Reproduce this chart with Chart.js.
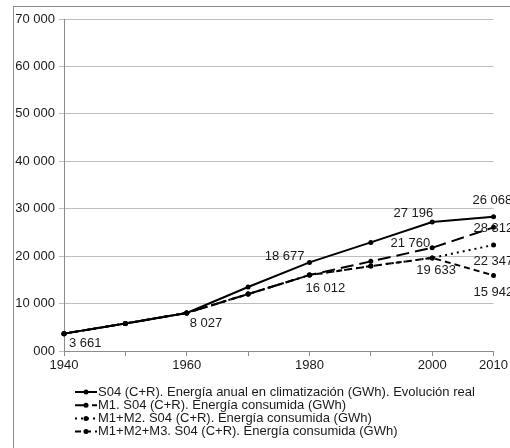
<!DOCTYPE html>
<html>
<head>
<meta charset="utf-8">
<script src="https://cdn.jsdelivr.net/npm/chart.js@4.4.1/dist/chart.umd.min.js"></script>
<style>
  html, body { margin: 0; padding: 0; background: #fff; }
  #wrap { width: 510px; height: 448px; position: relative; }
</style>
</head>
<body>
<div id="wrap"><canvas id="chart"></canvas></div>
<script>
// Datos (GWh)
var years = ['1940', '1950', '1960', '1970', '1980', '1990', '2000', '2010'];
var shownYears = ['1940', '1960', '1980', '2000', '2010'];
var realValues = [3661, 5800, 8027, 13500, 18677, 22900, 27196, 28312];
var m1Values = [3661, 5800, 8027, 12000, 16012, 18900, 21760, 26068];
var m1m2Values = [3661, 5800, 8027, 12000, 16012, 17900, 19633, 22347];
var m1m2m3Values = [3661, 5800, 8027, 12000, 16012, 17900, 19633, 15942];
// etiquetas tal como aparecen en el gráfico (2010 real / M1 intercambiadas)
var realLabels = [3661, null, 8027, null, 18677, null, 27196, 26068];
var m1Labels = [null, null, null, null, 16012, null, 21760, 28312];
var m1m2Labels = [null, null, null, null, null, null, 19633, 22347];
var m1m2m3Labels = [null, null, null, null, null, null, null, 15942];
var seriesNames = [
    'S04 (C+R). Energía anual en climatización (GWh). Evolución real',
    'M1. S04 (C+R). Energía consumida (GWh)',
    'M1+M2. S04 (C+R). Energía consumida (GWh)',
    'M1+M2+M3. S04 (C+R). Energía consumida (GWh)'
];

function fmt(v) {
    if (v === 0) return '000';
    var s = String(Math.round(v));
    return s.replace(/\B(?=(\d{3})+(?!\d))/g, ' ');
}

// desplazamiento de cada etiqueta respecto al punto [dx, dy, align]
var labelPos = {
    0: { 0: [5, 10, 'left'], 2: [3, 10, 'left'], 4: [-5, -6, 'right'], 6: [1, -9, 'right'], 7: [-21, -16, 'left'] },
    1: { 4: [-4, 13, 'left'], 6: [-2, -4, 'right'], 7: [-20, 1, 'left'] },
    2: { 6: [-16, 13, 'left'], 7: [-20, 16, 'left'] },
    3: { 7: [-20, 17, 'left'] }
};

var framePlugin = {
    id: 'frame',
    beforeDraw: function (chart) {
        var ctx = chart.ctx;
        ctx.save();
        ctx.fillStyle = '#fff';
        ctx.fillRect(0, 0, chart.width, chart.height);
        ctx.strokeStyle = '#8c8c8c';
        ctx.lineWidth = 1;
        ctx.strokeRect(13.5, 6.5, 600, 600);
        ctx.restore();
    }
};

var labelsPlugin = {
    id: 'pointLabels',
    afterDatasetsDraw: function (chart) {
        var ctx = chart.ctx;
        ctx.save();
        ctx.font = '13px "Liberation Sans", Arial, sans-serif';
        ctx.fillStyle = '#1a1a1a';
        ctx.textBaseline = 'middle';
        chart.data.datasets.forEach(function (ds, di) {
            var meta = chart.getDatasetMeta(di);
            ds.pointText.forEach(function (t, i) {
                if (t === null) return;
                var p = meta.data[i];
                var o = labelPos[di][i];
                if (!o) return;
                ctx.textAlign = o[2];
                ctx.fillText(fmt(t), p.x + o[0], p.y + o[1]);
            });
        });
        ctx.restore();
    }
};

var legendPlugin = {
    id: 'customLegend',
    afterDraw: function (chart) {
        var ctx = chart.ctx;
        ctx.save();
        ctx.font = '13px "Liberation Sans", Arial, sans-serif';
        ctx.textBaseline = 'middle';
        chart.data.datasets.forEach(function (ds, i) {
            var y = 392 + i * 13.2;
            ctx.strokeStyle = '#000';
            ctx.lineWidth = 2;
            ctx.setLineDash(ds.legendDash);
            ctx.beginPath();
            ctx.moveTo(75, y);
            ctx.lineTo(97, y);
            ctx.stroke();
            ctx.setLineDash([]);
            ctx.fillStyle = '#000';
            ctx.beginPath();
            ctx.arc(86, y, 2.5, 0, Math.PI * 2);
            ctx.fill();
            ctx.fillStyle = '#1a1a1a';
            ctx.textAlign = 'left';
            ctx.fillText(ds.label, 98, y);
        });
        ctx.restore();
    }
};

function serie(label, values, text, dash, legendDash) {
    return {
        label: label,
        data: values,
        pointText: text,
        legendDash: legendDash,
        borderColor: '#000',
        backgroundColor: '#000',
        borderWidth: 2,
        borderDash: dash,
        pointRadius: 2.5,
        pointBackgroundColor: '#000',
        pointBorderWidth: 0,
        tension: 0,
        fill: false
    };
}

new Chart(document.getElementById('chart'), {
    type: 'line',
    data: {
        labels: years,
        datasets: [
            serie(seriesNames[0], realValues, realLabels, [], []),
            serie(seriesNames[1], m1Values, m1Labels, [13, 6], [13, 4]),
            serie(seriesNames[2], m1m2Values, m1m2Labels, [2, 4], [2, 4]),
            serie(seriesNames[3], m1m2m3Values, m1m2m3Labels, [6, 4], [6, 4])
        ]
    },
    options: {
        responsive: true,
        maintainAspectRatio: false,
        animation: false,
        layout: { padding: { top: 19, right: 13, left: 0, bottom: 0 } },
        plugins: {
            legend: { display: false },
            tooltip: { enabled: false }
        },
        scales: {
            x: {
                offset: false,
                grid: { drawOnChartArea: false, color: '#8c8c8c', tickLength: 5 },
                border: { color: '#8c8c8c' },
                ticks: {
                    autoSkip: false,
                    maxRotation: 0,
                    color: '#1a1a1a',
                    font: { family: '"Liberation Sans", Arial, sans-serif', size: 13 },
                    padding: 2,
                    callback: function (v, i) {
                        var y = years[i];
                        return shownYears.indexOf(y) >= 0 ? y : '';
                    }
                },
                afterFit: function (s) { s.height = 97; }
            },
            y: {
                min: 0,
                max: 70000,
                grid: { color: '#bdbdbd', tickLength: 5 },
                border: { color: '#8c8c8c' },
                ticks: {
                    stepSize: 10000,
                    color: '#1a1a1a',
                    font: { family: '"Liberation Sans", Arial, sans-serif', size: 13 },
                    padding: 4,
                    callback: function (v) { return fmt(v); }
                },
                afterFit: function (s) { s.width = 64; }
            }
        }
    },
    plugins: [framePlugin, labelsPlugin, legendPlugin]
});
</script>
</body>
</html>
